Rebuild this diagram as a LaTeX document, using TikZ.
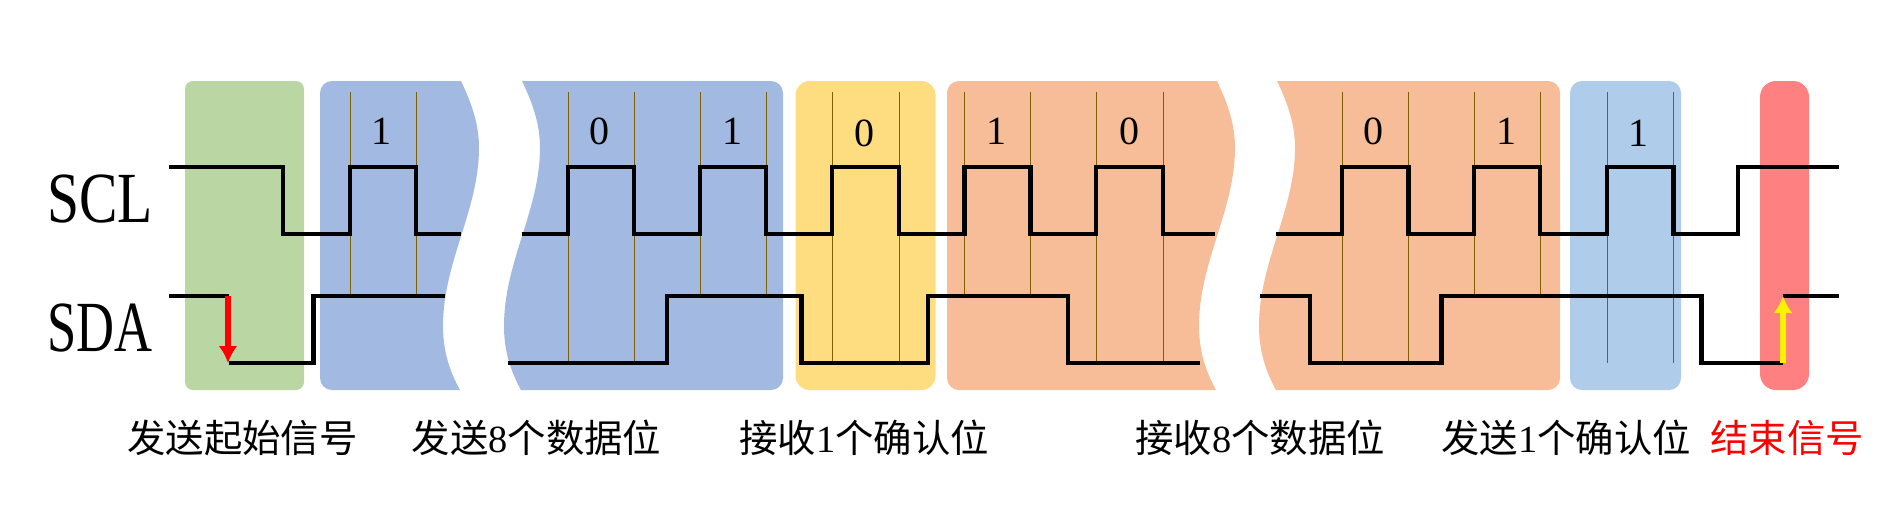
\documentclass[tikz,border=0pt]{standalone}
\usepackage{fontspec}
\setmainfont{Liberation Serif}
\newfontfamily\cjk{Noto Sans CJK SC}
\usetikzlibrary{arrows.meta}
\definecolor{startgreen}{HTML}{B9D6A3}
\definecolor{sendblue}{HTML}{A2B9E1}
\definecolor{ackyellow}{HTML}{FEDC80}
\definecolor{recvorange}{HTML}{F6BD98}
\definecolor{acklight}{HTML}{AFCDEA}
\definecolor{stopred}{HTML}{FF8080}
\definecolor{tickbrown}{HTML}{7F6000}
\tikzset{
  signal/.style={draw=black,line width=2.3pt,line join=miter},
  tickline/.style={draw=tickbrown,line width=0.5pt},
  bitlabel/.style={font=\fontsize{20}{20}\selectfont,inner sep=0pt},
  linename/.style={font=\fontsize{36}{36}\selectfont,transform shape,inner sep=0pt},
  steplabel/.style={font=\fontsize{19.2}{20}\selectfont,inner sep=0pt},
  edgearrow/.style={line width=2.7pt,-{Latex[length=8.5pt,width=9.5pt]}}
}
% wavy cut from the top edge to the bottom edge, #1 is x at the top
\newcommand{\wavecut}[1]{(#1,81) .. controls ({#1+12},106) and ({#1+18},126) .. ({#1+18},148)
  .. controls ({#1+18},210) and ({#1-18},262) .. ({#1-18},326)
  .. controls ({#1-18},350) and ({#1-12},370) .. ({#1-1},390)}
\begin{document}
\begin{tikzpicture}[x=0.5pt,y=-0.5pt]
  \useasboundingbox (0,0) rectangle (1881,526);
  %%% Coloured phases
  \path [fill=startgreen,rounded corners=4pt] (185,81) rectangle (304,390);
  \path [fill=sendblue] \wavecut{461} -- (440,390) [rounded corners=6pt] -- (320,390) -- (320,81) -- (461,81);
  \path [fill=sendblue] \wavecut{522} -- (540,390) [rounded corners=6pt] -- (783,390) -- (783,81) -- (522,81);
  \path [fill=ackyellow,rounded corners=7pt] (795.5,81) rectangle (935.5,390);
  \path [fill=recvorange] \wavecut{1217} -- (1200,390) [rounded corners=6pt] -- (947,390) -- (947,81) -- (1217,81);
  \path [fill=recvorange] \wavecut{1277} -- (1290,390) [rounded corners=6pt] -- (1560,390) -- (1560,81) -- (1277,81);
  \path [fill=acklight,rounded corners=6pt] (1570,81) rectangle (1681,390);
  \path [fill=stopred,rounded corners=8pt] (1760,81) rectangle (1809,390);
  %%% Clock ticks down to SDA high
  \foreach \x in {350,416,700,766,964.5,1030.5,1474,1540}
    \draw [tickline] (\x,92) -- (\x,296);
  %%% Clock ticks down to SDA low
  \foreach \x in {568,634,832,899,1096,1163,1342,1408.5,1607,1673.5}
    \draw [tickline] (\x,92) -- (\x,363);
  %%% SCL
  \draw [signal] (168.5,167) -- (283,167) -- (283,234) -- (350,234) -- (350,167) -- (416,167) -- (416,234) -- (461,234);
  \draw [signal] (522,234) -- (568,234) -- (568,167) -- (634,167) -- (634,234) -- (700,234) -- (700,167) -- (766,167) -- (766,234)
    -- (832,234) -- (832,167) -- (899,167) -- (899,234) -- (964.5,234) -- (964.5,167) -- (1030.5,167) -- (1030.5,234)
    -- (1096,234) -- (1096,167) -- (1163,167) -- (1163,234) -- (1215,234);
  \draw [signal] (1276,234) -- (1342,234) -- (1342,167) -- (1408.5,167) -- (1408.5,234) -- (1474,234) -- (1474,167) -- (1540,167)
    -- (1540,234) -- (1607,234) -- (1607,167) -- (1673.5,167) -- (1673.5,234) -- (1738,234) -- (1738,167) -- (1839,167);
  %%% SDA
  \draw [signal] (168.5,296) -- (228.5,296);
  \draw [signal] (228.5,363) -- (313.5,363) -- (313.5,296) -- (445,296);
  \draw [signal] (508,363) -- (667,363) -- (667,296) -- (801.5,296) -- (801.5,363) -- (928,363) -- (928,296) -- (1068,296) -- (1068,363) -- (1199.5,363);
  \draw [signal] (1259.5,296) -- (1310,296) -- (1310,363) -- (1441.5,363) -- (1441.5,296) -- (1701.5,296) -- (1701.5,363) -- (1783,363);
  \draw [signal] (1783,296) -- (1839,296);
  %%% Start and stop edges
  \draw [edgearrow,draw=red,fill=red] (228,296) -- (228,363);
  \draw [edgearrow,draw=yellow,fill=yellow] (1783,363) -- (1783,296);
  %%% Bits
  \foreach \x/\y/\b in {381.5/131/1,599.5/131/0,732/131/1,864/133/0,996.5/131/1,1129/131/0,1373.5/131/0,1506/131/1,1638.5/133/1}
    \node [bitlabel] (bit\x) at (\x,\y) {\b};
  %%% Line names
  \node [linename,xscale=0.80] (scl) at (100,199) {SCL};
  \node [linename,xscale=0.73] (sda) at (100,328) {SDA};
  %%% Phase names
  \node [steplabel] (startname) at (242.5,438) {\cjk 发送起始信号};
  \node [steplabel] (sendname) at (536.5,438) {{\cjk 发送}8{\cjk 个数据位}};
  \node [steplabel] (ackname) at (864,438) {{\cjk 接收}1{\cjk 个确认位}};
  \node [steplabel] (recvname) at (1260,438) {{\cjk 接收}8{\cjk 个数据位}};
  \node [steplabel] (sendackname) at (1566,438) {{\cjk 发送}1{\cjk 个确认位}};
  \node [steplabel,text=red] (stopname) at (1787,438) {\cjk 结束信号};
\end{tikzpicture}
\end{document}
